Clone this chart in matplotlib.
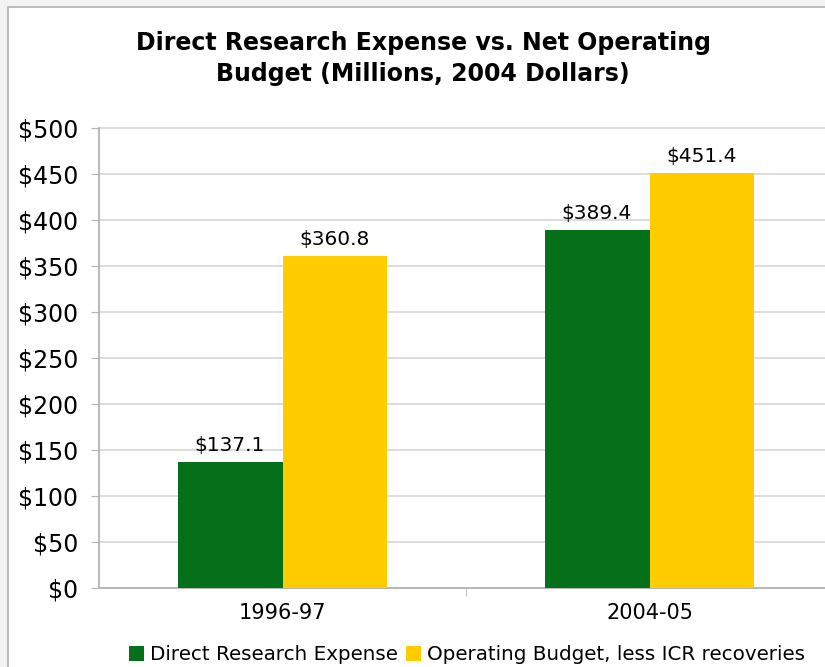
import matplotlib.pyplot as plt
from matplotlib.patches import Rectangle
import numpy as np

# data
years = ["1996-97", "2004-05"]
direct_research = [137.1, 389.4]
operating_budget = [360.8, 451.4]
series_names = ["Direct Research Expense", "Operating Budget, less ICR recoveries"]
yticks = [0, 50, 100, 150, 200, 250, 300, 350, 400, 450, 500]

green = "#05701A"
yellow = "#FFCC00"
gray = "#B4B4B4"

plt.rcParams["font.family"] = "DejaVu Sans"

fig = plt.figure(figsize=(8.25, 6.67), dpi=100, facecolor="#F3F3F3")
# white panel with a thin grey border (top/left visible)
fig.patches.append(Rectangle((8 / 825, -0.1), 1.2, 1.1 - 7 / 667, transform=fig.transFigure,
                             facecolor="white", edgecolor="#B0B0B0", linewidth=1.2, zorder=-5))

ax = fig.add_axes([99 / 825, 1 - 588 / 667, 734 / 825, 460 / 667])
ax.set_facecolor("none")

x = np.arange(len(years))
w = 0.286
b1 = ax.bar(x - w / 2, direct_research, w, color=green, label=series_names[0], zorder=3)
b2 = ax.bar(x + w / 2, operating_budget, w, color=yellow, label=series_names[1], zorder=3)

for bars, vals in [(b1, direct_research), (b2, operating_budget)]:
    for bar, v in zip(bars, vals):
        ax.annotate("$%.1f" % v, (bar.get_x() + bar.get_width() / 2, v),
                    xytext=(0, 5), textcoords="offset points",
                    ha="center", va="bottom", fontsize=14.5)

ax.set_xlim(-0.5, 1.5)
ax.set_ylim(0, 500)
ax.set_yticks(yticks)
ax.set_yticklabels(["$%d" % t for t in yticks], fontsize=17)
ax.set_xticks(x)
ax.set_xticklabels(years, fontsize=15)
ax.set_xticks([0.5], minor=True)
ax.tick_params(axis="x", which="major", length=0, pad=11)
ax.tick_params(axis="x", which="minor", length=6, color=gray)
ax.tick_params(axis="y", length=6, color=gray, pad=9)

ax.yaxis.grid(True, color="#DADADA", linewidth=1.3, zorder=0)
for gl in ax.get_ygridlines():
    gl.set_clip_on(False)
ax.set_axisbelow(True)
for s in ["right", "top"]:
    ax.spines[s].set_visible(False)
ax.spines["left"].set_color(gray)
ax.spines["bottom"].set_color(gray)
ax.spines["left"].set_linewidth(1.3)
ax.spines["bottom"].set_linewidth(1.3)

fig.text(423 / 825, 1 - 58.5 / 667,
         "Direct Research Expense vs. Net Operating\nBudget (Millions, 2004 Dollars)",
         ha="center", va="center", fontsize=17, fontweight="bold", linespacing=1.4)

fig.legend(handles=[b1, b2], loc="center", bbox_to_anchor=(467 / 825, 1 - 655 / 667),
           ncol=2, frameon=False, fontsize=14.3, handlelength=0.75, handleheight=0.75,
           handletextpad=0.3, columnspacing=0.45, borderaxespad=0)

fig.savefig("out.png", dpi=100, facecolor=fig.get_facecolor())
